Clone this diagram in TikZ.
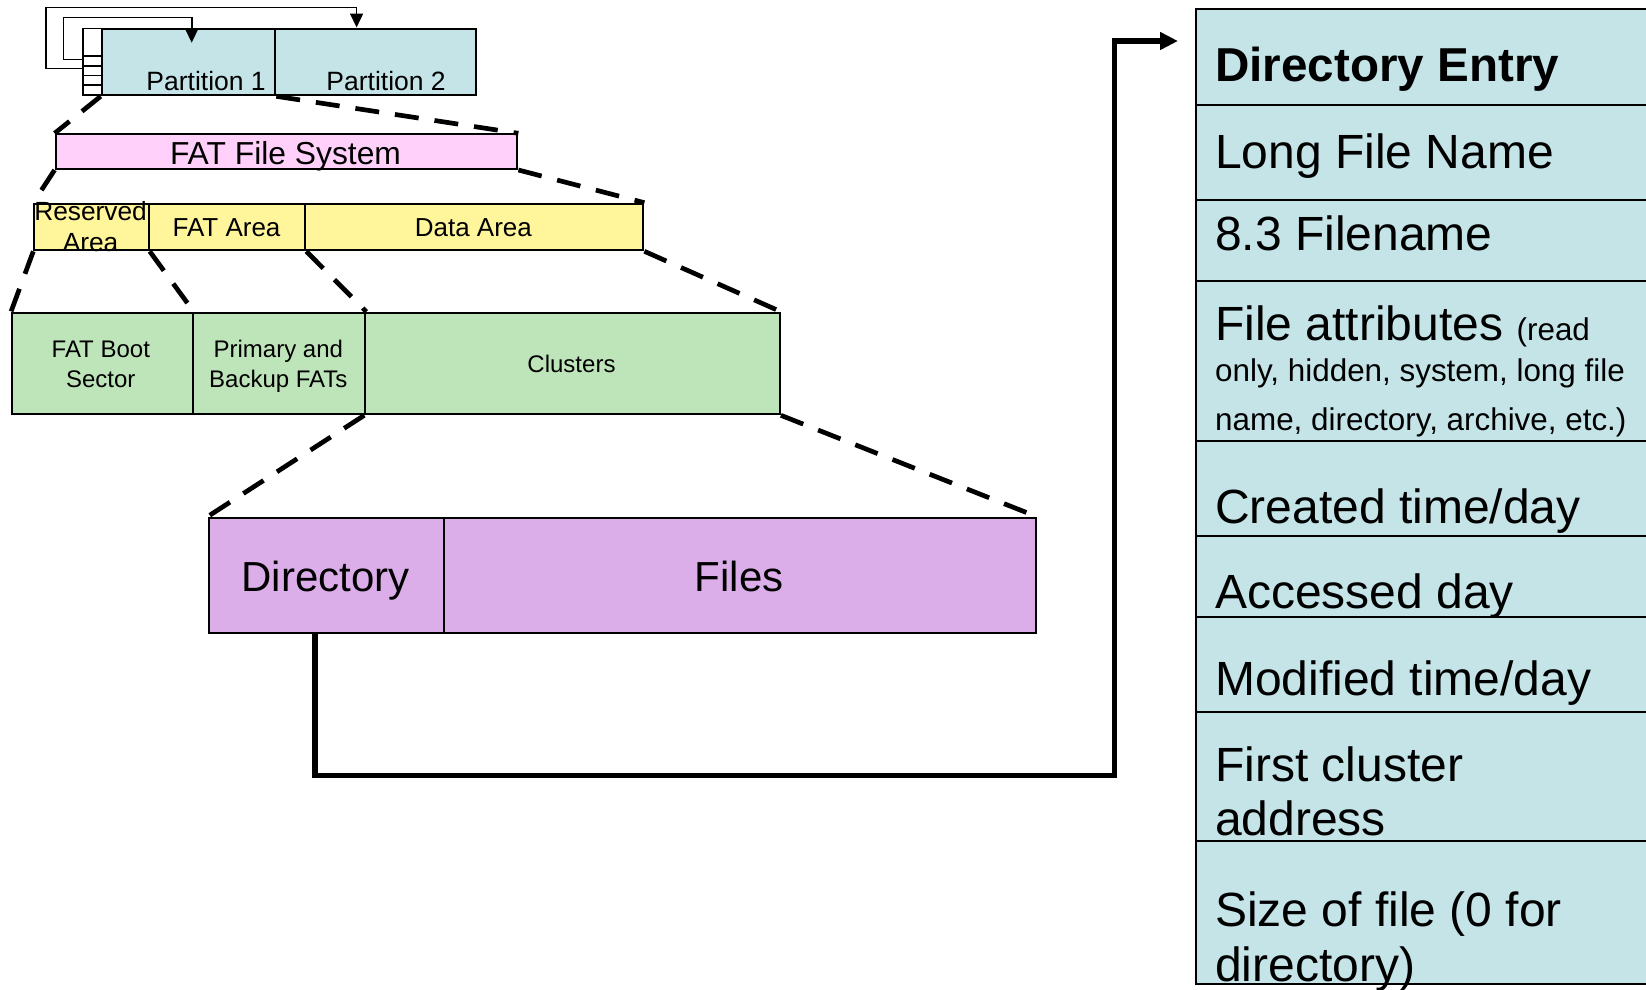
\documentclass[tikz,border=0pt]{standalone}
\usepackage{fontspec}
\setmainfont{Liberation Sans}
\usetikzlibrary{arrows.meta}
\definecolor{cyanc}{RGB}{196,228,232}
\definecolor{pinkc}{RGB}{255,208,250}
\definecolor{yellowc}{RGB}{255,245,155}
\definecolor{greenc}{RGB}{190,229,185}
\definecolor{purplec}{RGB}{219,173,233}
\newcommand\myfs[1]{\fontsize{#1}{#1}\selectfont}
\tikzset{
  cell/.style={draw, line width=2pt, inner sep=0pt, anchor=north west},
  lbl/.style={inner sep=0pt, anchor=base},
  lblw/.style={inner sep=0pt, anchor=base west},
  zoomline/.style={line width=4.7pt, dash pattern=on 24pt off 16pt},
  ptr/.style={line width=1.6pt, -{Triangle[length=14pt,width=13pt]}},
  conn/.style={line width=5.3pt, -{Triangle[length=18pt,width=17pt]}},
}
\begin{document}
\begin{tikzpicture}[x=1pt,y=-1pt]
\clip (0,0) rectangle (1646,989);
\fill[white] (0,0) rectangle (1646,989);

% partition table
\node[cell, line width=1.6pt, fill=white, minimum width=18.4pt, minimum height=66.8pt] (ptab) at (82.3,27.5) {};
\foreach \yy in {56,65.7,75.3,85} \draw[line width=1.6pt] (82.3,\yy) -- (100.7,\yy);
\node[cell, fill=cyanc, minimum width=173.6pt, minimum height=66.8pt] (p1) at (100.7,27.5) {};
\node[cell, fill=cyanc, minimum width=200.2pt, minimum height=66.8pt] (p2) at (274.3,27.5) {};
\node[lblw] (tp1) at (146.2,90) {\myfs{26.5}Partition 1};
\node[lblw] (tp2) at (326.2,90) {\myfs{26.5}Partition 2};
\draw[ptr] ([yshift=-40.8pt]ptab.north west) -- (45.7,68.3) -- (45.7,7.3) -- (356.6,7.3) -- ([xshift=82.3pt]p2.north west);
\draw[ptr] ([yshift=-31.8pt]ptab.north west) -- (63.3,59.3) -- (63.3,17.3) -- (191.7,17.3) -- ([xshift=91pt,yshift=-15.2pt]p1.north west);

% FAT file system
\node[cell, fill=pinkc, minimum width=461.8pt, minimum height=34.7pt] (fatfs) at (54.6,133.3) {};
\node[lbl] (tfs) at (285.5,164.8) {\myfs{31.8}FAT File System};

% yellow row
\node[cell, fill=yellowc, minimum width=114.4pt, minimum height=46.6pt] (res) at (33.3,202.7) {};
\node[cell, fill=yellowc, minimum width=156.6pt, minimum height=46.6pt] (fata) at (147.7,202.7) {};
\node[cell, fill=yellowc, minimum width=338.1pt, minimum height=46.6pt] (data) at (304.3,202.7) {};
\node[lbl] (tres1) at (90.6,220.7) {\myfs{26.3}Reserved};
\node[lbl] (tres2) at (90.6,251.7) {\myfs{26.3}Area};
\node[lbl] (tfata) at (226.5,236) {\myfs{26}FAT Area};
\node[lbl] (tdata) at (473.4,236) {\myfs{26}Data Area};

% green row
\node[cell, fill=greenc, minimum width=180.7pt, minimum height=101.6pt] (boot) at (11,311.7) {};
\node[cell, fill=greenc, minimum width=172.6pt, minimum height=101.6pt] (prim) at (191.7,311.7) {};
\node[cell, fill=greenc, minimum width=414.6pt, minimum height=101.6pt] (clus) at (364.3,311.7) {};
\node[lbl] (tb1) at (100.8,357.3) {\myfs{24}FAT Boot};
\node[lbl] (tb2) at (100.8,387.3) {\myfs{24}Sector};
\node[lbl] (tpr1) at (278.3,357.3) {\myfs{24}Primary and};
\node[lbl] (tpr2) at (278.3,387.3) {\myfs{24}Backup FATs};
\node[lbl] (tcl) at (571.5,372) {\myfs{24}Clusters};

% purple row
\node[cell, fill=purplec, minimum width=235.8pt, minimum height=115pt] (dir) at (207.5,516.7) {};
\node[cell, fill=purplec, minimum width=591.7pt, minimum height=115pt] (files) at (443.3,516.7) {};
\node[lbl] (tdir) at (325.4,591.7) {\myfs{42}Directory};
\node[lbl] (tfiles) at (739.2,591.7) {\myfs{42}Files};

% zoom lines
\draw[zoomline] (p1.south west) -- (fatfs.north west);
\draw[zoomline] (p1.south east) -- (fatfs.north east);
\draw[zoomline] (fatfs.south west) -- (res.north west);
\draw[zoomline] (fatfs.south east) -- (data.north east);
\draw[zoomline] (res.south west) -- (boot.north west);
\draw[zoomline] (res.south east) -- (boot.north east);
\draw[zoomline] (fata.south east) -- (prim.north east);
\draw[zoomline] (data.south east) -- (clus.north east);
\draw[zoomline] (clus.south west) -- (dir.north west);
\draw[zoomline] (clus.south east) -- (files.north east);

% directory entry table
\node[cell, fill=cyanc, minimum width=520pt, minimum height=95.7pt] (r0) at (1195,7.8) {};
\node[cell, fill=cyanc, minimum width=520pt, minimum height=95.9pt] (r1) at (1195,103.5) {};
\node[cell, fill=cyanc, minimum width=520pt, minimum height=80.1pt] (r2) at (1195,199.4) {};
\node[cell, fill=cyanc, minimum width=520pt, minimum height=160pt] (r3) at (1195,279.5) {};
\node[cell, fill=cyanc, minimum width=520pt, minimum height=95.5pt] (r4) at (1195,439.5) {};
\node[cell, fill=cyanc, minimum width=520pt, minimum height=81pt] (r5) at (1195,535) {};
\node[cell, fill=cyanc, minimum width=520pt, minimum height=95pt] (r6) at (1195,616) {};
\node[cell, fill=cyanc, minimum width=520pt, minimum height=128.5pt] (r7) at (1195,711) {};
\node[cell, fill=cyanc, minimum width=520pt, minimum height=143.5pt] (r8) at (1195,839.5) {};

\node[lblw] (e0) at (1215,81.7) {\myfs{47.6}\bfseries Directory Entry};
\node[lblw] (e1) at (1215,168.3) {\myfs{48}Long File Name};
\node[lblw] (e2) at (1215,250.7) {\myfs{48}8.3 Filename};
\node[lblw] (e3a) at (1215,340) {\myfs{48}File attributes \myfs{31.4}(read};
\node[lblw] (e3b) at (1215,381.7) {\myfs{31.4}only, hidden, system, long file};
\node[lblw] (e3c) at (1215,430) {\myfs{31.4}name, directory, archive, etc.)};
\node[lblw] (e4) at (1215,523.3) {\myfs{48}Created time/day};
\node[lblw] (e5) at (1215,608) {\myfs{48}Accessed day};
\node[lblw] (e6) at (1215,695.6) {\myfs{48}Modified time/day};
\node[lblw] (e7a) at (1215,781.4) {\myfs{48}First cluster};
\node[lblw] (e7b) at (1215,835.7) {\myfs{48}address};
\node[lblw] (e8a) at (1215,926.7) {\myfs{48}Size of file (0 for};
\node[lblw] (e8b) at (1215,981) {\myfs{48}directory)};

\coordinate (tip) at (1178,41);
\draw[conn] ([xshift=107.5pt]dir.south west) |- (1114.8,775.7) |- (tip);
\end{tikzpicture}
\end{document}
